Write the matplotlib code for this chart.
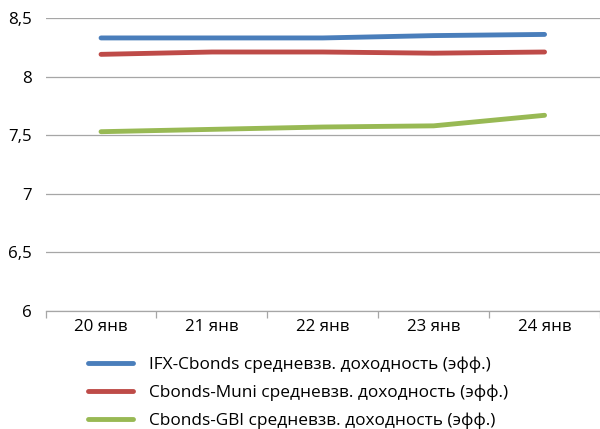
import matplotlib
matplotlib.use("Agg")
import matplotlib.pyplot as plt

# data
dates = ["20 янв", "21 янв", "22 янв", "23 янв", "24 янв"]
ifx_cbonds = [8.33, 8.33, 8.33, 8.35, 8.36]
cbonds_muni = [8.19, 8.21, 8.21, 8.20, 8.21]
cbonds_gbi = [7.53, 7.55, 7.57, 7.58, 7.67]

series_names = [
    "IFX-Cbonds средневзв. доходность (эфф.)",
    "Cbonds-Muni средневзв. доходность (эфф.)",
    "Cbonds-GBI средневзв. доходность (эфф.)",
]
colors = ["#4a7ebb", "#be4b48", "#98b954"]

plt.rcParams["font.family"] = ["Open Sans", "DejaVu Sans"]

fig = plt.figure(figsize=(6.0, 4.29), dpi=100)
ax = fig.add_axes([0.076, 0.275, 0.924, 0.683])

x = range(len(dates))
for vals, name, col in zip([ifx_cbonds, cbonds_muni, cbonds_gbi], series_names, colors):
    ax.plot(x, vals, color=col, lw=3.5, solid_capstyle="round", label=name, zorder=3)

ax.set_xlim(-0.5, len(dates) - 0.5)
ax.set_ylim(6, 8.5)
ax.set_yticks([6, 6.5, 7, 7.5, 8, 8.5])
ax.set_yticklabels(["6", "6,5", "7", "7,5", "8", "8,5"], fontsize=12.2)
ax.yaxis.grid(True, color="#a6a6a6", lw=0.9)
ax.set_axisbelow(True)

# category labels centred, tick marks on boundaries
ax.set_xticks(list(x))
ax.set_xticklabels(dates, fontsize=12.2)
ax.tick_params(axis="x", which="major", length=0, pad=6)
ax.set_xticks([i - 0.5 for i in range(len(dates) + 1)], minor=True)
ax.tick_params(axis="x", which="minor", length=5, color="#a6a6a6", width=0.9)
ax.tick_params(axis="y", length=0, pad=10)

for s in ["top", "right", "left"]:
    ax.spines[s].set_visible(False)
ax.spines["bottom"].set_color("#a6a6a6")
ax.spines["bottom"].set_linewidth(0.9)

fig.legend(loc="upper left", bbox_to_anchor=(0.147, 0.170), bbox_transform=fig.transFigure,
           frameon=False, fontsize=12.4, handlelength=2.6, handletextpad=0.95,
           labelspacing=0.68, borderpad=0, borderaxespad=0)

fig.savefig("out.png", dpi=100)
